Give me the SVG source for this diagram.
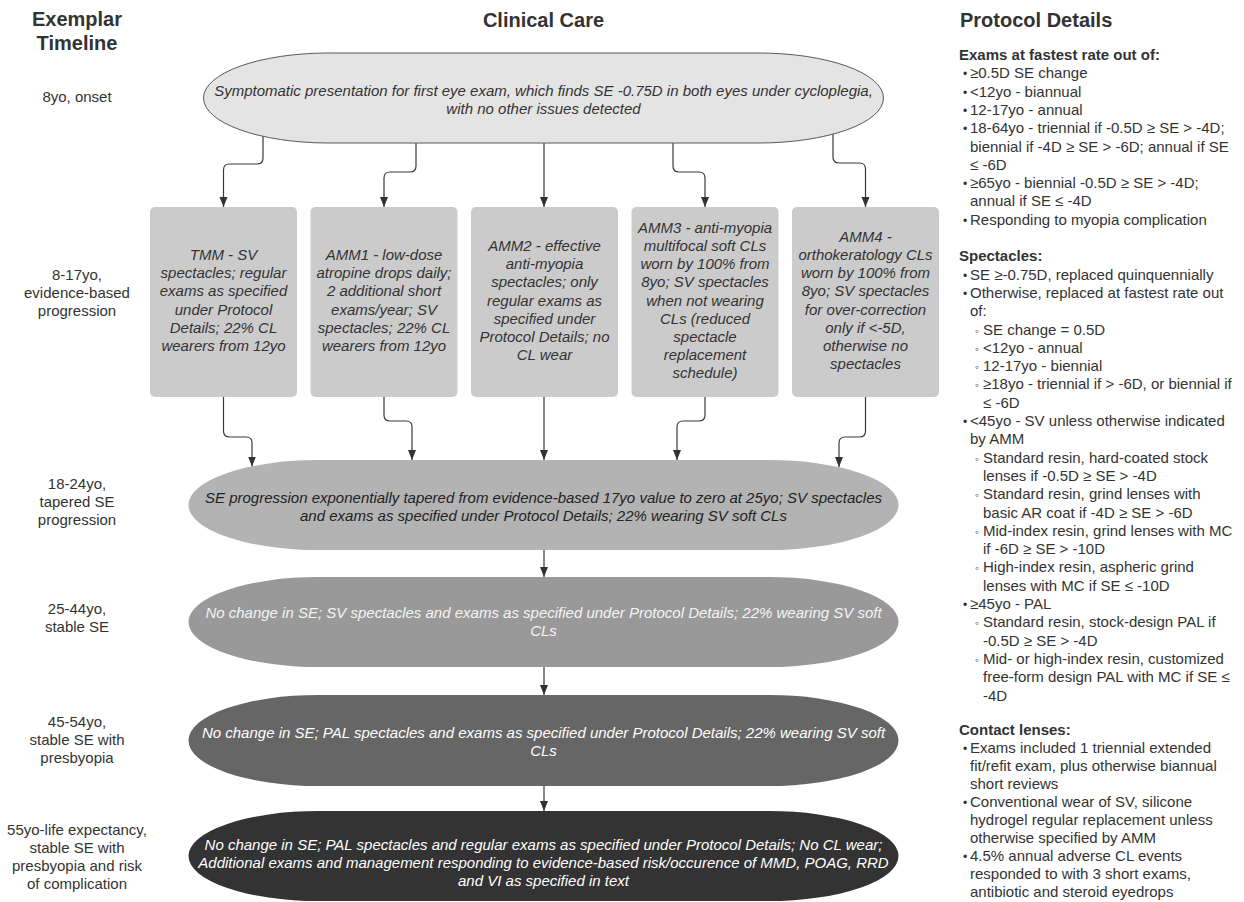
<svg xmlns="http://www.w3.org/2000/svg" width="1244" height="902" viewBox="0 0 1244 902">
<style>
text{font-family:"Liberation Sans",Arial,"DejaVu Sans",sans-serif;fill:#333;}
.h{font-size:20px;font-weight:bold;}
.lbl{font-size:15px;text-anchor:middle;}
.it{font-size:15px;font-style:italic;text-anchor:middle;}
.dk{fill:#222;}
.lt{fill:#f4f4f4;}
.wt{fill:#ffffff;}
.rc{font-size:15px;}
.rh{font-size:15px;font-weight:bold;}
.bul{font-size:12px;}
.box{fill:#cbcbcb;}
.con{fill:none;stroke:#3a3a3a;stroke-width:1.2;marker-end:url(#ah);}
</style>
<defs>
<marker id="ah" markerWidth="10" markerHeight="10" refX="10" refY="5" orient="auto" markerUnits="userSpaceOnUse">
<path d="M0,1 L10,5 L0,9 Z" fill="#333"/>
</marker>
</defs>
<rect width="1244" height="902" fill="#ffffff"/>

<g id="headers">
<text class="h" x="77" y="26" text-anchor="middle">Exemplar</text>
<text class="h" x="77" y="50" text-anchor="middle">Timeline</text>
<text class="h" x="543.5" y="27" text-anchor="middle">Clinical Care</text>
<text class="h" x="960" y="27">Protocol Details</text>
</g>

<g id="timeline">
<text class="lbl" x="77" y="102">8yo, onset</text>
<text class="lbl" x="77" y="279.5">8-17yo,<tspan x="77" dy="18.2">evidence-based</tspan><tspan x="77" dy="18.2">progression</tspan></text>
<text class="lbl" x="77" y="489">18-24yo,<tspan x="77" dy="18.2">tapered SE</tspan><tspan x="77" dy="18.2">progression</tspan></text>
<text class="lbl" x="77" y="614">25-44yo,<tspan x="77" dy="18.2">stable SE</tspan></text>
<text class="lbl" x="77" y="727">45-54yo,<tspan x="77" dy="17.8">stable SE with</tspan><tspan x="77" dy="17.8">presbyopia</tspan></text>
<text class="lbl" x="77" y="835">55yo-life expectancy,<tspan x="77" dy="18">stable SE with</tspan><tspan x="77" dy="18">presbyopia and risk</tspan><tspan x="77" dy="18">of complication</tspan></text>
</g>

<g id="connectors">
<path class="con" d="M263,136 V158 Q263,164 257,164 H229.5 Q223.5,164 223.5,170 V207"/>
<path class="con" d="M416,143 V166 Q416,172 410,172 H390 Q384,172 384,178 V207"/>
<path class="con" d="M544,143 V207"/>
<path class="con" d="M673,143 V166 Q673,172 679,172 H699 Q705,172 705,178 V207"/>
<path class="con" d="M833,134 V157 Q833,163 839,163 H859.5 Q865.5,163 865.5,169 V207"/>
<path class="con" d="M223.5,397 V431 Q223.5,437 229.5,437 H246 Q252,437 252,443 V466.5"/>
<path class="con" d="M384,397 V415 Q384,421 390,421 H406 Q412,421 412,427 V460"/>
<path class="con" d="M544,397 V460"/>
<path class="con" d="M705,397 V415 Q705,421 699,421 H683 Q677,421 677,427 V460"/>
<path class="con" d="M865.5,397 V431 Q865.5,437 859.5,437 H845 Q839,437 839,443 V467"/>
<path class="con" d="M544,550 V577"/>
<path class="con" d="M544,667 V695"/>
<path class="con" d="M544,786 V811"/>
</g>

<g id="onset">
<path d="M203.5,98 A125,45 0 0 1 328.5,53 H758.5 A125,45 0 0 1 883.5,98 A125,45 0 0 1 758.5,143 H328.5 A125,45 0 0 1 203.5,98 Z" fill="#e4e4e4" stroke="#5a5a5a" stroke-width="1"/>
<text class="it" x="543.5" y="96">Symptomatic presentation for first eye exam, which finds SE -0.75D in both eyes under cycloplegia,<tspan x="543.5" dy="18">with no other issues detected</tspan></text>
</g>

<g id="tmm">
<rect class="box" x="150" y="207" width="147" height="190" rx="5"/>
<text class="it" x="223.5" y="260">TMM - SV<tspan x="223.5" dy="18.2">spectacles; regular</tspan><tspan x="223.5" dy="18.2">exams as specified</tspan><tspan x="223.5" dy="18.2">under Protocol</tspan><tspan x="223.5" dy="18.2">Details; 22% CL</tspan><tspan x="223.5" dy="18.2">wearers from 12yo</tspan></text>
</g>
<g id="amm1">
<rect class="box" x="310.5" y="207" width="147" height="190" rx="5"/>
<text class="it" x="384" y="260">AMM1 - low-dose<tspan x="384" dy="18.2">atropine drops daily;</tspan><tspan x="384" dy="18.2">2 additional short</tspan><tspan x="384" dy="18.2">exams/year; SV</tspan><tspan x="384" dy="18.2">spectacles; 22% CL</tspan><tspan x="384" dy="18.2">wearers from 12yo</tspan></text>
</g>
<g id="amm2">
<rect class="box" x="471" y="207" width="147" height="190" rx="5"/>
<text class="it" x="544.5" y="250.9">AMM2 - effective<tspan x="544.5" dy="18.2">anti-myopia</tspan><tspan x="544.5" dy="18.2">spectacles; only</tspan><tspan x="544.5" dy="18.2">regular exams as</tspan><tspan x="544.5" dy="18.2">specified under</tspan><tspan x="544.5" dy="18.2">Protocol Details; no</tspan><tspan x="544.5" dy="18.2">CL wear</tspan></text>
</g>
<g id="amm3">
<rect class="box" x="631.5" y="207" width="147" height="190" rx="5"/>
<text class="it" x="705" y="232.7">AMM3 - anti-myopia<tspan x="705" dy="18.2">multifocal soft CLs</tspan><tspan x="705" dy="18.2">worn by 100% from</tspan><tspan x="705" dy="18.2">8yo; SV spectacles</tspan><tspan x="705" dy="18.2">when not wearing</tspan><tspan x="705" dy="18.2">CLs (reduced</tspan><tspan x="705" dy="18.2">spectacle</tspan><tspan x="705" dy="18.2">replacement</tspan><tspan x="705" dy="18.2">schedule)</tspan></text>
</g>
<g id="amm4">
<rect class="box" x="792" y="207" width="147" height="190" rx="5"/>
<text class="it" x="865.5" y="241.8">AMM4 -<tspan x="865.5" dy="18.2">orthokeratology CLs</tspan><tspan x="865.5" dy="18.2">worn by 100% from</tspan><tspan x="865.5" dy="18.2">8yo; SV spectacles</tspan><tspan x="865.5" dy="18.2">for over-correction</tspan><tspan x="865.5" dy="18.2">only if &lt;-5D,</tspan><tspan x="865.5" dy="18.2">otherwise no</tspan><tspan x="865.5" dy="18.2">spectacles</tspan></text>
</g>

<g id="tapered">
<path d="M188.5,505 A130,45 0 0 1 318.5,460 H768.5 A130,45 0 0 1 898.5,505 A130,45 0 0 1 768.5,550 H318.5 A130,45 0 0 1 188.5,505 Z" fill="#b3b3b3"/>
<text class="it dk" x="543.5" y="503">SE progression exponentially tapered from evidence-based 17yo value to zero at 25yo; SV spectacles<tspan x="543.5" dy="18.2">and exams as specified under Protocol Details; 22% wearing SV soft CLs</tspan></text>
</g>
<g id="stable">
<path d="M188.5,622 A130,45 0 0 1 318.5,577 H768.5 A130,45 0 0 1 898.5,622 A130,45 0 0 1 768.5,667 H318.5 A130,45 0 0 1 188.5,622 Z" fill="#999999"/>
<text class="it lt" x="543.5" y="618">No change in SE; SV spectacles and exams as specified under Protocol Details; 22% wearing SV soft<tspan x="543.5" dy="18.2">CLs</tspan></text>
</g>
<g id="presbyopia">
<path d="M188.5,740.5 A130,45.5 0 0 1 318.5,695 H768.5 A130,45.5 0 0 1 898.5,740.5 A130,45.5 0 0 1 768.5,786 H318.5 A130,45.5 0 0 1 188.5,740.5 Z" fill="#666666"/>
<text class="it wt" x="543.5" y="738">No change in SE; PAL spectacles and exams as specified under Protocol Details; 22% wearing SV soft<tspan x="543.5" dy="18.2">CLs</tspan></text>
</g>
<g id="complication">
<path d="M188.5,856 A130,45 0 0 1 318.5,811 H768.5 A130,45 0 0 1 898.5,856 A130,45 0 0 1 768.5,901 H318.5 A130,45 0 0 1 188.5,856 Z" fill="#333333"/>
<text class="it wt" x="543.5" y="850">No change in SE; PAL spectacles and regular exams as specified under Protocol Details; No CL wear;<tspan x="543.5" dy="18.2">Additional exams and management responding to evidence-based risk/occurence of MMD, POAG, RRD</tspan><tspan x="543.5" dy="18.2">and VI as specified in text</tspan></text>
</g>

<g id="protocol">
<text class="rh" x="959" y="60">Exams at fastest rate out of:</text>
<text class="bul" x="963" y="78.3">•</text><text class="rc" x="970" y="78.3">≥0.5D SE change</text>
<text class="bul" x="963" y="96.6">•</text><text class="rc" x="970" y="96.6">&lt;12yo - biannual</text>
<text class="bul" x="963" y="114.9">•</text><text class="rc" x="970" y="114.9">12-17yo - annual</text>
<text class="bul" x="963" y="133.2">•</text><text class="rc" x="970" y="133.2">18-64yo - triennial if -0.5D ≥ SE &gt; -4D;</text>
<text class="rc" x="970" y="151.5">biennial if -4D ≥ SE &gt; -6D; annual if SE</text>
<text class="rc" x="970" y="169.8">≤ -6D</text>
<text class="bul" x="963" y="188.1">•</text><text class="rc" x="970" y="188.1">≥65yo - biennial -0.5D ≥ SE &gt; -4D;</text>
<text class="rc" x="970" y="206.4">annual if SE ≤ -4D</text>
<text class="bul" x="963" y="224.7">•</text><text class="rc" x="970" y="224.7">Responding to myopia complication</text>

<text class="rh" x="959" y="261.3">Spectacles:</text>
<text class="bul" x="963" y="279.6">•</text><text class="rc" x="970" y="279.6">SE ≥-0.75D, replaced quinquennially</text>
<text class="bul" x="963" y="297.9">•</text><text class="rc" x="970" y="297.9">Otherwise, replaced at fastest rate out</text>
<text class="rc" x="970" y="316.2">of:</text>
<text class="bul" x="975" y="334.5">◦</text><text class="rc" x="983" y="334.5">SE change = 0.5D</text>
<text class="bul" x="975" y="352.8">◦</text><text class="rc" x="983" y="352.8">&lt;12yo - annual</text>
<text class="bul" x="975" y="371.1">◦</text><text class="rc" x="983" y="371.1">12-17yo - biennial</text>
<text class="bul" x="975" y="389.4">◦</text><text class="rc" x="983" y="389.4">≥18yo - triennial if &gt; -6D, or biennial if</text>
<text class="rc" x="983" y="407.7">≤ -6D</text>
<text class="bul" x="963" y="426">•</text><text class="rc" x="970" y="426">&lt;45yo - SV unless otherwise indicated</text>
<text class="rc" x="970" y="444.3">by AMM</text>
<text class="bul" x="975" y="462.6">◦</text><text class="rc" x="983" y="462.6">Standard resin, hard-coated stock</text>
<text class="rc" x="983" y="480.9">lenses if -0.5D ≥ SE &gt; -4D</text>
<text class="bul" x="975" y="499.2">◦</text><text class="rc" x="983" y="499.2">Standard resin, grind lenses with</text>
<text class="rc" x="983" y="517.5">basic AR coat if -4D ≥ SE &gt; -6D</text>
<text class="bul" x="975" y="535.8">◦</text><text class="rc" x="983" y="535.8">Mid-index resin, grind lenses with MC</text>
<text class="rc" x="983" y="554.1">if -6D ≥ SE &gt; -10D</text>
<text class="bul" x="975" y="572.4">◦</text><text class="rc" x="983" y="572.4">High-index resin, aspheric grind</text>
<text class="rc" x="983" y="590.7">lenses with MC if SE ≤ -10D</text>
<text class="bul" x="963" y="609">•</text><text class="rc" x="970" y="609">≥45yo - PAL</text>
<text class="bul" x="975" y="627.3">◦</text><text class="rc" x="983" y="627.3">Standard resin, stock-design PAL if</text>
<text class="rc" x="983" y="645.6">-0.5D ≥ SE &gt; -4D</text>
<text class="bul" x="975" y="663.9">◦</text><text class="rc" x="983" y="663.9">Mid- or high-index resin, customized</text>
<text class="rc" x="983" y="682.2">free-form design PAL with MC if SE ≤</text>
<text class="rc" x="983" y="700.5">-4D</text>

<text class="rh" x="959" y="735">Contact lenses:</text>
<text class="bul" x="963" y="753">•</text><text class="rc" x="970" y="753">Exams included 1 triennial extended</text>
<text class="rc" x="970" y="771">fit/refit exam, plus otherwise biannual</text>
<text class="rc" x="970" y="789">short reviews</text>
<text class="bul" x="963" y="807">•</text><text class="rc" x="970" y="807">Conventional wear of SV, silicone</text>
<text class="rc" x="970" y="825">hydrogel regular replacement unless</text>
<text class="rc" x="970" y="843">otherwise specified by AMM</text>
<text class="bul" x="963" y="861">•</text><text class="rc" x="970" y="861">4.5% annual adverse CL events</text>
<text class="rc" x="970" y="879">responded to with 3 short exams,</text>
<text class="rc" x="970" y="897">antibiotic and steroid eyedrops</text>
</g>
</svg>
